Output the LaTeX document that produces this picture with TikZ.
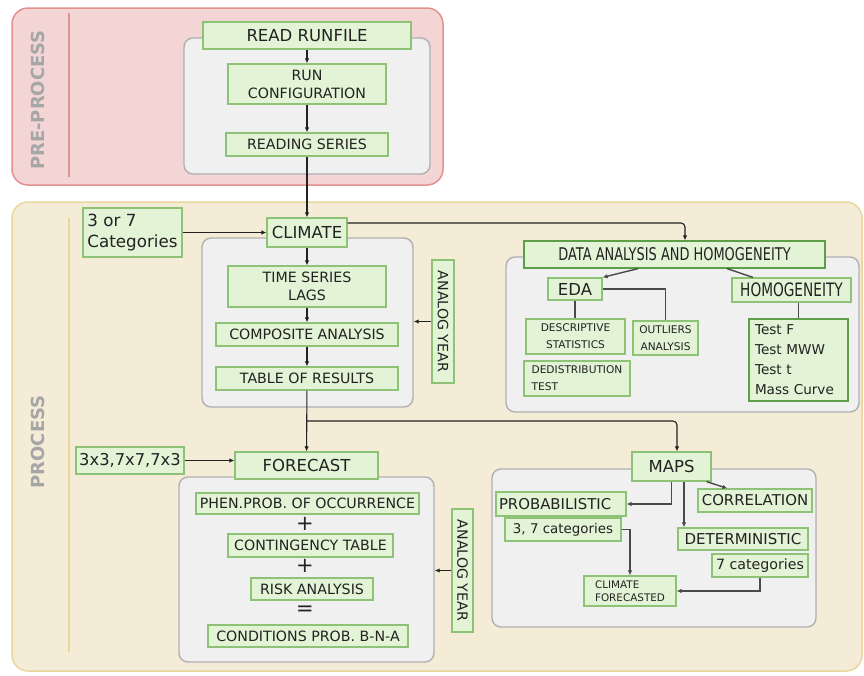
\documentclass[tikz,border=0pt]{standalone}
\usepackage{fontspec}
\setmainfont{DejaVu Sans}
\newfontfamily\condfont[FakeStretch=0.74]{DejaVu Sans}
\usepackage{xcolor}
\usepackage{tikz}
\usetikzlibrary{arrows.meta,positioning,calc}

\definecolor{boxfill}{HTML}{E2F3D6}
\definecolor{boxline}{HTML}{8EC277}
\definecolor{boxdark}{HTML}{5E9E48}
\definecolor{panelfill}{HTML}{F0F0F0}
\definecolor{panelline}{HTML}{B0B0B0}
\definecolor{prefill}{HTML}{F3D5D6}
\definecolor{preline}{HTML}{E29090}
\definecolor{procfill}{HTML}{F4ECD7}
\definecolor{procline}{HTML}{E8D69C}
\definecolor{sidegray}{HTML}{A6A6A6}
\definecolor{ink}{HTML}{222222}
\definecolor{linkgray}{HTML}{4A4A4A}

\begin{document}
\begin{tikzpicture}[
    x=1pt, y=-1pt,
    box/.style={draw=boxline, fill=boxfill, line width=1.2pt, inner sep=0pt, text=ink, align=center},
    panel/.style={draw=panelline, fill=panelfill, line width=1.4pt, rounded corners=9pt, inner sep=0pt},
    arr/.style={draw=ink, line width=1.1pt, -{Latex[length=5pt,width=4.5pt]}},
    link/.style={draw=linkgray, line width=1.4pt},
    sidelabel/.style={text=sidegray, font=\bfseries\fontsize{18}{20}\selectfont},
    big/.style={font=\fontsize{16.5}{21}\selectfont},
    mid/.style={font=\fontsize{14.2}{18}\selectfont},
    small/.style={font=\fontsize{10.6}{16.8}\selectfont},
    cond/.style={font=\condfont\fontsize{18}{20}\selectfont}
]
\useasboundingbox (0,0) rectangle (864,675);

% Outer stages
\draw[fill=prefill, draw=preline, line width=1.5pt, rounded corners=16pt] (12,8) rectangle (443,185);
\draw[preline, line width=1.2pt] (69,13) -- (69,177);
\node[sidelabel, rotate=90] (prelabel) at (38,100) {PRE-PROCESS};

\draw[fill=procfill, draw=procline, line width=1.5pt, rounded corners=16pt] (12,202) rectangle (862,671);
\draw[procline, line width=1.2pt] (69,218) -- (69,652);
\node[sidelabel, rotate=90] (proclabel) at (38,442) {PROCESS};

% Grey panels
\node[panel, minimum width=246, minimum height=136] (prepanel) at (307,106) {};
\node[panel, minimum width=211, minimum height=169] (climpanel) at (307.5,322.5) {};
\node[panel, minimum width=353, minimum height=155] (datapanel) at (682.5,334.5) {};
\node[panel, minimum width=255, minimum height=185] (fcpanel) at (306.5,569.5) {};
\node[panel, minimum width=324, minimum height=158] (mapspanel) at (654,548) {};

% Pre-process
\node[box, big, minimum width=208, minimum height=27] (readrun) at (307,35.5) {READ RUNFILE};
\node[box, mid, minimum width=158, minimum height=40] (runconf) at (307,84) {RUN\\CONFIGURATION};
\node[box, mid, minimum width=162, minimum height=23] (readser) at (307,144.5) {READING SERIES};

% Climate
\node[box, font=\fontsize{16.7}{21}\selectfont, align=left, minimum width=99, minimum height=49] (cats) at (132.5,232.5) {3 or 7\\Categories};
\node[box, big, minimum width=80, minimum height=29] (climate) at (307,232.5) {CLIMATE};
\node[box, mid, minimum width=158, minimum height=41] (tslags) at (307,286.5) {TIME SERIES\\LAGS};
\node[box, mid, minimum width=182, minimum height=23] (compan) at (307,334.5) {COMPOSITE ANALYSIS};
\node[box, mid, minimum width=182, minimum height=23] (tabres) at (307,378.5) {TABLE OF RESULTS};
\node[box, mid, rotate=-90, minimum width=123, minimum height=22] (analogA) at (443,321.5) {ANALOG YEAR};

% Data analysis
\node[box, cond, draw=boxdark, font=\condfont\fontsize{17.5}{20}\selectfont, minimum width=301, minimum height=27] (data) at (674.5,254.5) {DATA ANALYSIS AND HOMOGENEITY};
\node[box, font=\fontsize{16.5}{20}\selectfont, minimum width=54, minimum height=22] (eda) at (575,289) {EDA};
\node[box, cond, font=\condfont\fontsize{18.5}{20}\selectfont, minimum width=119, minimum height=24] (homog) at (791.5,290) {HOMOGENEITY};
\node[box, small, minimum width=99, minimum height=35] (descr) at (575.5,336.5) {DESCRIPTIVE\\STATISTICS};
\node[box, small, minimum width=65, minimum height=34] (outl) at (665.5,338) {OUTLIERS\\ANALYSIS};
\node[box, small, align=left, minimum width=106, minimum height=35] (dedist) at (577,378.5) {DEDISTRIBUTION\\TEST};
\node[box, draw=boxdark, font=\fontsize{13.6}{20}\selectfont, align=left, text width=87, inner xsep=6pt, minimum height=82] (tests) at (798.5,360) {Test F\\Test MWW\\Test t\\Mass Curve};

% Forecast
\node[box, font=\fontsize{16.3}{20}\selectfont, minimum width=108, minimum height=27] (params) at (130,460.5) {3x3,7x7,7x3};
\node[box, big, minimum width=143, minimum height=27] (forecast) at (306.5,465.5) {FORECAST};
\node[box, mid, minimum width=223, minimum height=21] (phen) at (307.5,503.5) {PHEN.PROB. OF OCCURRENCE};
\node[text=ink, font=\fontsize{21}{22}\selectfont] (plusA) at (305,524) {+};
\node[box, mid, minimum width=165, minimum height=23] (conting) at (310.5,545.5) {CONTINGENCY TABLE};
\node[text=ink, font=\fontsize{21}{22}\selectfont] (plusB) at (305,566) {+};
\node[box, mid, minimum width=122, minimum height=22] (risk) at (312,589) {RISK ANALYSIS};
\node[text=ink, font=\fontsize{21}{22}\selectfont] (eq) at (305,611) {=};
\node[box, mid, minimum width=200, minimum height=22] (cond) at (308,636) {CONDITIONS PROB. B-N-A};
\node[box, mid, rotate=-90, minimum width=123, minimum height=21] (analogB) at (462.5,570.5) {ANALOG YEAR};

% Maps
\node[box, big, minimum width=79, minimum height=29] (maps) at (671.5,466.5) {MAPS};
\node[box, font=\fontsize{14.9}{18}\selectfont, align=left, text width=124, inner xsep=3pt, minimum height=24] (prob) at (561,504) {PROBABILISTIC};
\node[box, font=\fontsize{14.9}{18}\selectfont, minimum width=114, minimum height=23] (corr) at (755,500.5) {CORRELATION};
\node[box, font=\fontsize{15}{18}\selectfont, minimum width=130, minimum height=22] (determ) at (743,539) {DETERMINISTIC};
\node[box, font=\fontsize{13.4}{18}\selectfont, minimum width=116, minimum height=23] (catA) at (563,529.5) {3, 7 categories};
\node[box, font=\fontsize{14.2}{18}\selectfont, minimum width=96, minimum height=23] (catB) at (760,565.5) {7 categories};
\node[box, font=\fontsize{10.4}{12.7}\selectfont, align=left, minimum width=92, minimum height=30] (climfc) at (630,591) {CLIMATE\\FORECASTED};

% Connectors
\draw[arr] (readrun) -- (runconf);
\draw[arr] (runconf) -- (readser);
\draw[arr] (readser) -- (climate);
\draw[arr] (cats.east) -- (cats.east -| climate.west);
\draw[arr, rounded corners=4pt] ([yshift=9.5pt]climate.east) -| ([xshift=10.5pt]data.north);
\draw[arr] (climate) -- (tslags);
\draw[arr] (tslags) -- (compan);
\draw[arr] (compan) -- (tabres);
\draw[arr] (analogA.south) -- (analogA.south -| climpanel.east);
\draw[arr] (tabres) -- (forecast);
\coordinate (split) at (307,421);
\draw[arr, rounded corners=4pt] (split) -| ([xshift=5.5pt]maps.north);

\draw[arr, linkgray, line width=1.4pt] ([xshift=-36.5pt]data.south) -- (eda.north east);
\draw[link] ([xshift=52.5pt]data.south) -- ([xshift=-38.5pt]homog.north);
\draw[link] (eda.south) -- (eda.south |- descr.north);
\draw[link] (eda.east) -| (outl.north);
\draw[link] (tests.north |- homog.south) -- (tests.north);

\draw[arr] (params.east) -- (params.east -| forecast.west);
\draw[arr] (analogB.south) -- (analogB.south -| fcpanel.east);

\draw[arr, linkgray, line width=1.4pt] (maps.south) |- (prob.east);
\draw[arr, linkgray, line width=1.4pt] ([xshift=-5pt]maps.south east) -- ([xshift=30pt]corr.north west);
\draw[arr, linkgray, line width=1.4pt] ([xshift=12.5pt]maps.south) -- ([xshift=12.5pt]maps.south |- determ.north);
\draw[arr, linkgray, line width=1.4pt] (catA.east) -| (climfc.north);
\draw[arr, linkgray, line width=1.4pt] (catB.south) |- (climfc.east);

\end{tikzpicture}
\end{document}
